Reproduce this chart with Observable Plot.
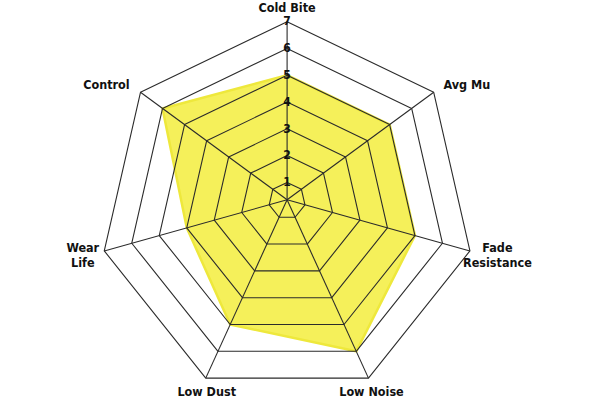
<!DOCTYPE html>
<html><head><meta charset="utf-8">
<script src="https://cdn.jsdelivr.net/npm/d3@7"></script>
<script src="https://cdn.jsdelivr.net/npm/@observablehq/plot@0.6"></script>
<style>html,body{margin:0;padding:0;background:#fff}</style>
</head><body><div id="chart"></div>
<script>
// ---- data ----
const axesNames = ["Cold Bite", "Avg Mu", "Fade\nResistance", "Low Noise", "Low Dust", "Wear\nLife", "Control"];
const values = [5, 5, 5, 6, 5, 4, 6];
const ticks = [1, 2, 3, 4, 5, 6, 7];

// ---- layout (not data) ----
const V0 = 0.35;        // value at the hub
const TILT = 0.05;      // slight downward drift of rings
const LABEL_V = 7.49;   // where category labels sit
const labelAnchor = ["middle", "start", "middle", "middle", "middle", "middle", "end"];
const labelDx = [0, -1, 14, -3, 7, -8, 0];
const labelDy = [-1.5, 0, 0, 0, 0, 0, 0];
const FONT = "'Liberation Sans Narrow','DejaVu Sans Condensed','Arial Narrow',sans-serif";

const n = axesNames.length;
const ang = i => 2 * Math.PI * i / n;
const px = (i, v) => Math.sin(ang(i)) * (v - V0);
const py = (i, v) => Math.cos(ang(i)) * (v - V0) - TILT * (v - V0);

const ringPts = ticks.flatMap(t => axesNames.map((a, i) => ({ring: t, x: px(i, t), y: py(i, t)})));
const areaPts = values.map((v, i) => ({x: px(i, v), y: py(i, v)}));
const spokes = axesNames.map((a, i) => i);
const maxV = d3.max(ticks);

const U = 28.2, CX = 286.6, CY = 199.3;

const chart = Plot.plot({
  width: 600, height: 400,
  margin: 0,
  x: {domain: [-CX / U, (600 - CX) / U], axis: null},
  y: {domain: [-(400 - CY) / U, CY / U], axis: null},
  style: {background: "#fff"},
  marks: [
    Plot.line(areaPts, {x: "x", y: "y", curve: "linear-closed", fill: "#f5f05a", stroke: "#eee83c", strokeWidth: 2.5}),
    Plot.line(ringPts, {x: "x", y: "y", z: "ring", curve: "linear-closed", stroke: "#2b2b2b", strokeWidth: 1.1}),
    Plot.link(spokes, {x1: i => px(i, V0), y1: i => py(i, V0), x2: i => px(i, maxV), y2: i => py(i, maxV), stroke: "#2b2b2b", strokeWidth: 1.1}),
    Plot.text(ticks, {x: t => px(0, t), y: t => py(0, t), text: t => String(t), fontWeight: "bold", fontSize: 12, fill: "#111", fontFamily: FONT}),
    ...axesNames.map((a, i) => Plot.text([a], {
      x: () => px(i, LABEL_V), y: () => py(i, LABEL_V), text: d => d,
      textAnchor: labelAnchor[i], dx: labelDx[i], dy: labelDy[i], lineAnchor: "middle", lineHeight: 1.2,
      fontWeight: "bold", fontSize: 12.5, fill: "#111", fontFamily: FONT
    }))
  ]
});
document.getElementById("chart").appendChild(chart);
</script>
</body></html>
